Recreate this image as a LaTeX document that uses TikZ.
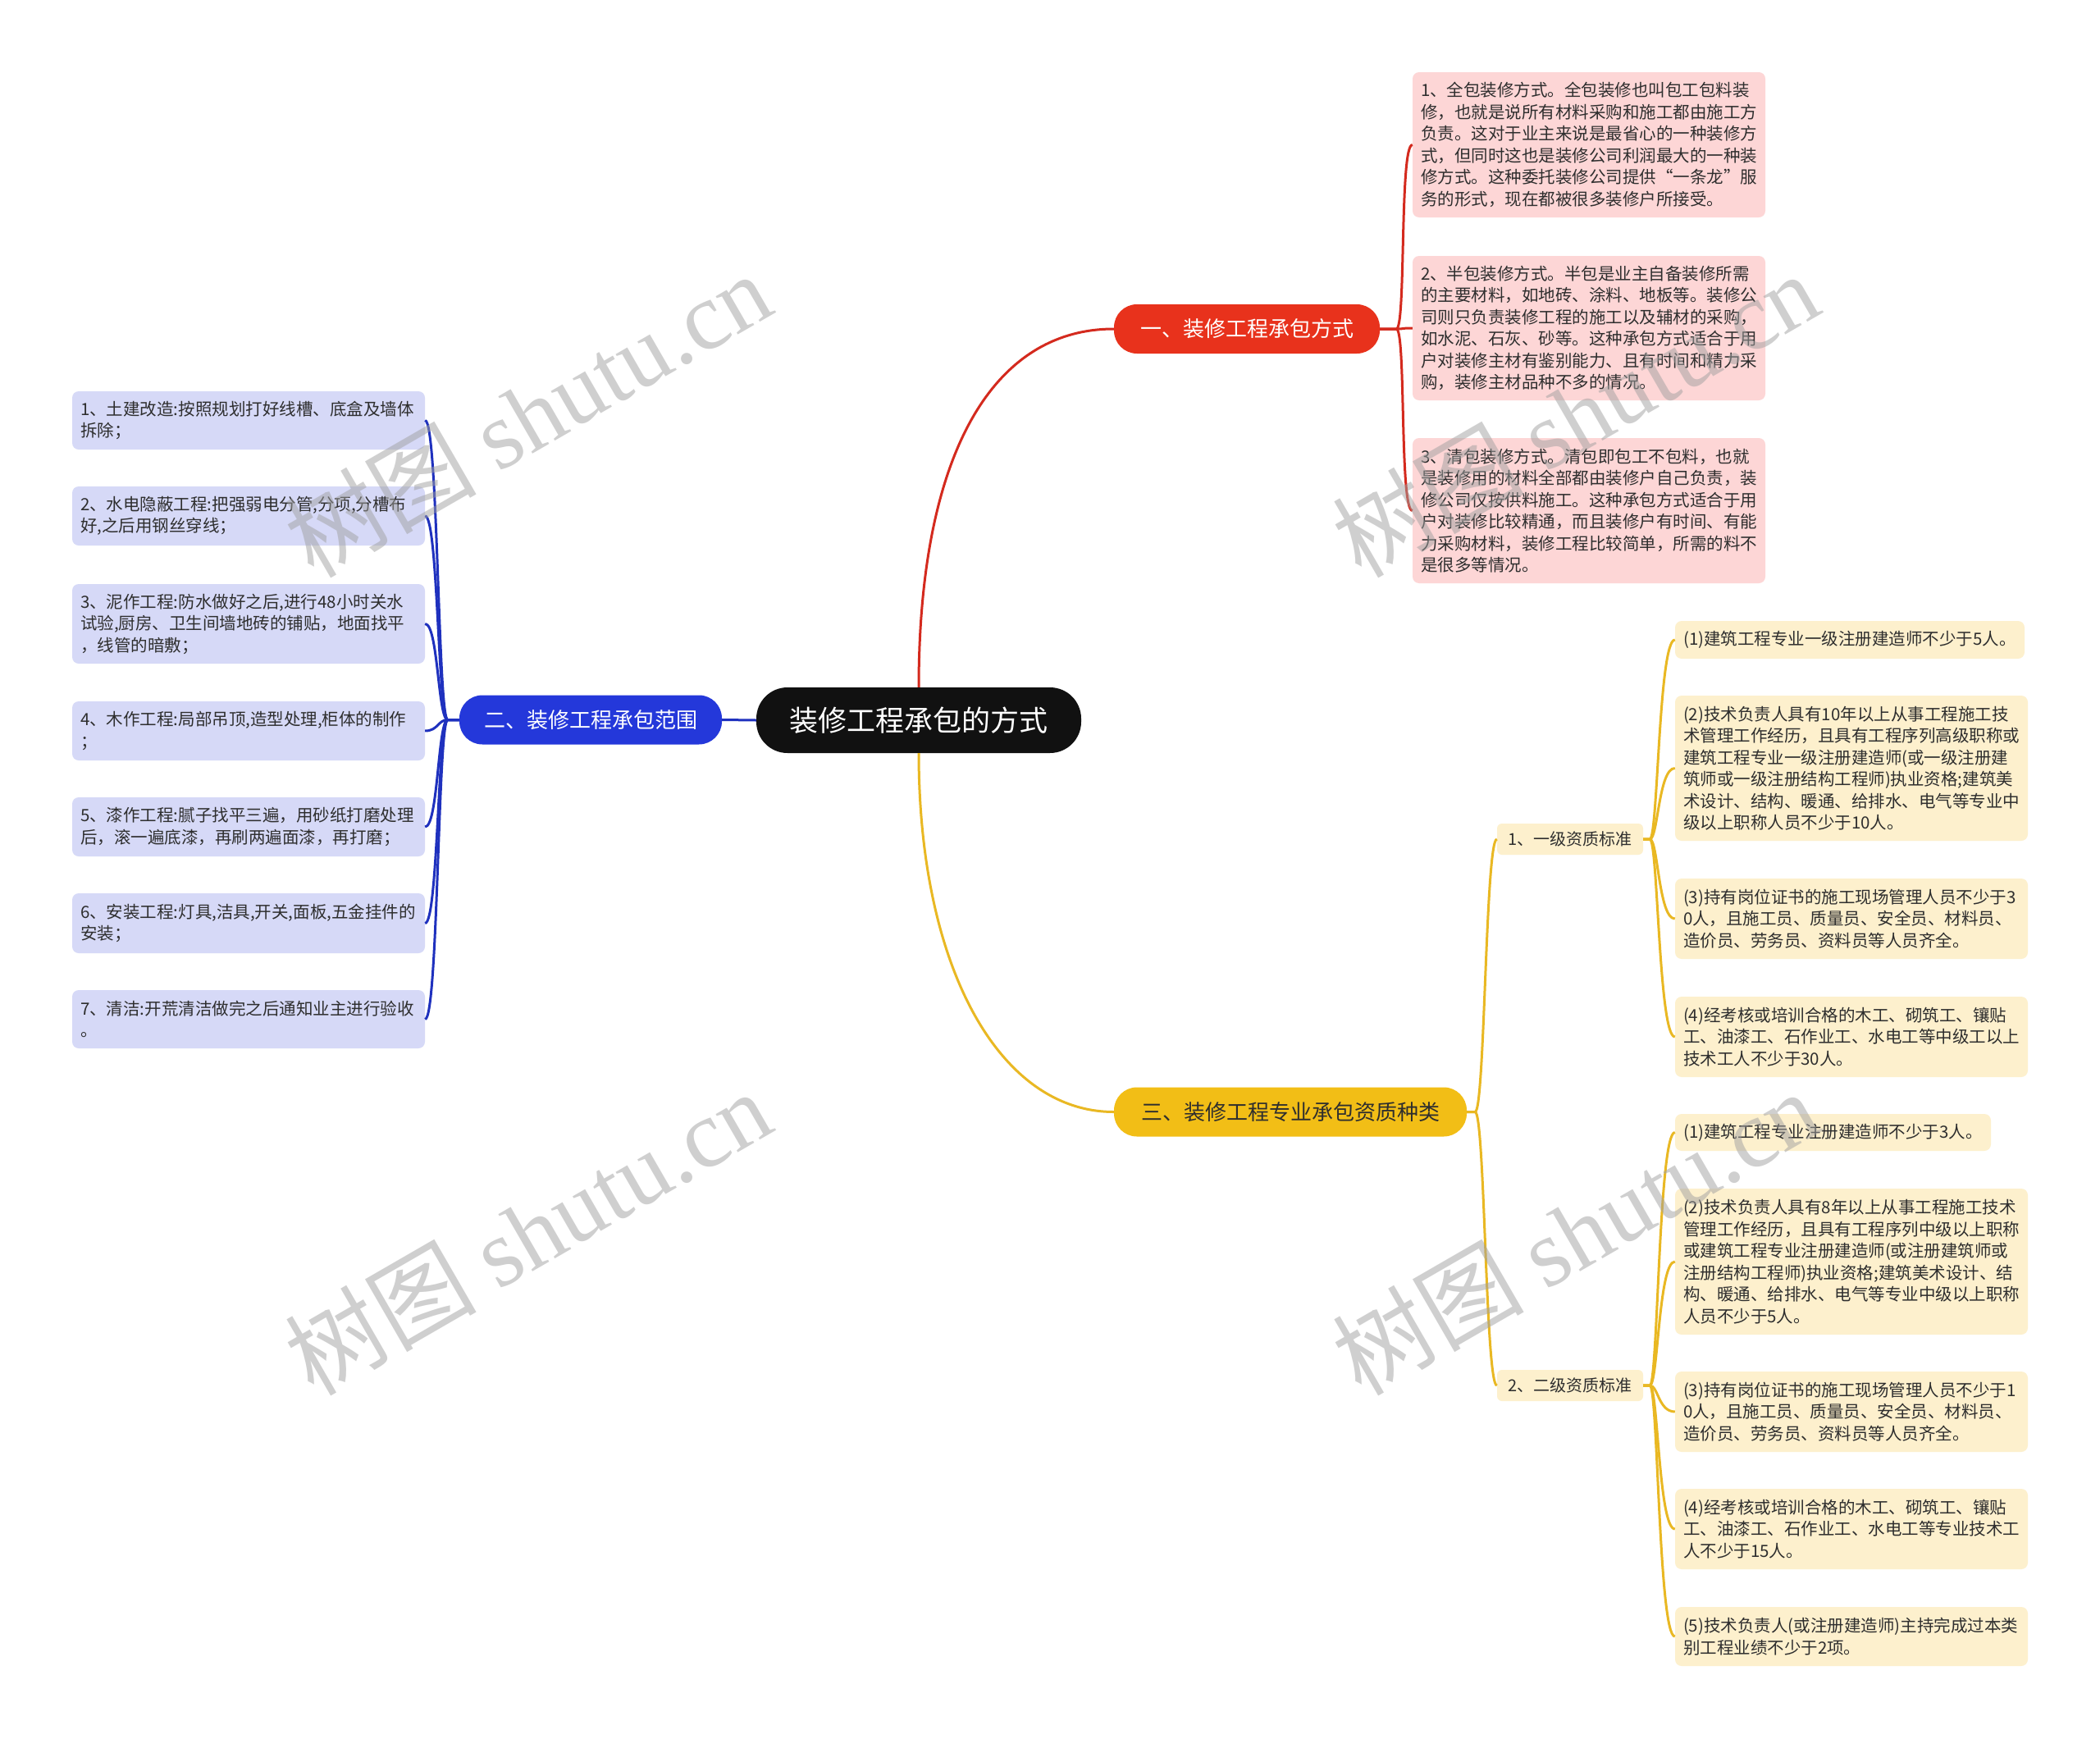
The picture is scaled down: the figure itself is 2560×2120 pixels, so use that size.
\documentclass[tikz,border=0pt]{standalone}
\usepackage{fontspec}
\setmainfont{Noto Sans CJK SC}
\newfontfamily\wmlatin{Liberation Serif}
\definecolor{redb}{HTML}{E8321C}
\definecolor{redl}{HTML}{D42A1E}
\definecolor{pinkf}{HTML}{FDD6D6}
\definecolor{blueb}{HTML}{2438DA}
\definecolor{bluel}{HTML}{1F31BE}
\definecolor{lavf}{HTML}{D6D9F7}
\definecolor{yelb}{HTML}{F2BE16}
\definecolor{yell}{HTML}{E9B823}
\definecolor{creamf}{HTML}{FDF0CD}
\definecolor{txtd}{HTML}{2E2E2E}
\definecolor{rootf}{HTML}{111111}
\definecolor{wmc}{HTML}{A0A0A0}
\tikzset{
  leaf/.style={rounded corners=8, inner xsep=10, inner ysep=3, align=left, text width=410, minimum width=430, font=\fontsize{20.5}{26.5}\selectfont, text=txtd},
  pinkleaf/.style={leaf, fill=pinkf},
  lavleaf/.style={leaf, fill=lavf},
  creamleaf/.style={leaf, fill=creamf},
  oneline/.style={rounded corners=8, inner xsep=10, inner ysep=3, font=\fontsize{20.5}{26.5}\selectfont, text=txtd, fill=creamf},
  subnode/.style={rounded corners=6, inner sep=0, minimum width=178, minimum height=38, font=\fontsize{20}{20}\selectfont, text=txtd, fill=creamf},
  rootnode/.style={rounded corners=38, inner sep=0, minimum width=396, minimum height=80, fill=rootf, text=white, font=\fontsize{35}{35}\selectfont},
  branch/.style={rounded corners=28, inner sep=0, minimum height=60, font=\fontsize{26}{26}\selectfont},
  redcon/.style={draw=redl, line width=3},
  bluecon/.style={draw=bluel, line width=3},
  yelcon/.style={draw=yell, line width=3},
  wm/.style={rotate=30, text=wmc, text opacity=0.5, font=\fontsize{117}{117}\selectfont, inner sep=0}
}
\begin{document}
\begin{tikzpicture}[x=1pt,y=-1pt]
\useasboundingbox (0,0) rectangle (2560,2120);
\fill[white] (0,0) rectangle (2560,2120);

% root and branches
\node[rootnode] (root) at (1120,878) {装修工程承包的方式};
\node[branch, fill=redb, text=white, minimum width=324] (rb) at (1520,401) {一、装修工程承包方式};
\node[branch, fill=blueb, text=white, minimum width=320] (bb) at (720,877.5) {二、装修工程承包范围};
\node[branch, fill=yelb, text=txtd, minimum width=430] (yb) at (1573,1355.5) {三、装修工程专业承包资质种类};

% red leaves
\node[pinkleaf, minimum height=177] (r1) at (1937,176.5) {1、全包装修方式。全包装修也叫包工包料装\\修，也就是说所有材料采购和施工都由施工方\\负责。这对于业主来说是最省心的一种装修方\\式，但同时这也是装修公司利润最大的一种装\\修方式。这种委托装修公司提供“一条龙”服\\务的形式，现在都被很多装修户所接受。};
\node[pinkleaf, minimum height=176] (r2) at (1937,400) {2、半包装修方式。半包是业主自备装修所需\\的主要材料，如地砖、涂料、地板等。装修公\\司则只负责装修工程的施工以及辅材的采购，\\如水泥、石灰、砂等。这种承包方式适合于用\\户对装修主材有鉴别能力、且有时间和精力采\\购，装修主材品种不多的情况。};
\node[pinkleaf, minimum height=177] (r3) at (1937,622.5) {3、清包装修方式。清包即包工不包料，也就\\是装修用的材料全部都由装修户自己负责，装\\修公司仅按供料施工。这种承包方式适合于用\\户对装修比较精通，而且装修户有时间、有能\\力采购材料，装修工程比较简单，所需的料不\\是很多等情况。};

% blue leaves
\node[lavleaf, minimum height=71] (b1) at (303,512.5) {1、土建改造:按照规划打好线槽、底盒及墙体\\拆除；};
\node[lavleaf, minimum height=72] (b2) at (303,629) {2、水电隐蔽工程:把强弱电分管,分项,分槽布\\好,之后用钢丝穿线；};
\node[lavleaf, minimum height=97] (b3) at (303,760.5) {3、泥作工程:防水做好之后,进行48小时关水\\试验,厨房、卫生间墙地砖的铺贴，地面找平\\，线管的暗敷；};
\node[lavleaf, minimum height=72] (b4) at (303,891) {4、木作工程:局部吊顶,造型处理,柜体的制作\\；};
\node[lavleaf, minimum height=72] (b5) at (303,1008) {5、漆作工程:腻子找平三遍，用砂纸打磨处理\\后，滚一遍底漆，再刷两遍面漆，再打磨；};
\node[lavleaf, minimum height=73] (b6) at (303,1125.5) {6、安装工程:灯具,洁具,开关,面板,五金挂件的\\安装；};
\node[lavleaf, minimum height=71] (b7) at (303,1242.5) {7、清洁:开荒清洁做完之后通知业主进行验收\\。};

% yellow sub nodes
\node[subnode] (s1) at (1914,1023) {1、一级资质标准};
\node[subnode] (s2) at (1914,1689) {2、二级资质标准};

% yellow level 1 leaves
\node[oneline, minimum height=46, minimum width=426] (y11) at (2255,780) {(1)建筑工程专业一级注册建造师不少于5人。};
\node[creamleaf, minimum height=177] (y12) at (2257,936.5) {(2)技术负责人具有10年以上从事工程施工技\\术管理工作经历，且具有工程序列高级职称或\\建筑工程专业一级注册建造师(或一级注册建\\筑师或一级注册结构工程师)执业资格;建筑美\\术设计、结构、暖通、给排水、电气等专业中\\级以上职称人员不少于10人。};
\node[creamleaf, minimum height=98] (y13) at (2257,1120) {(3)持有岗位证书的施工现场管理人员不少于3\\0人，且施工员、质量员、安全员、材料员、\\造价员、劳务员、资料员等人员齐全。};
\node[creamleaf, minimum height=98] (y14) at (2257,1264) {(4)经考核或培训合格的木工、砌筑工、镶贴\\工、油漆工、石作业工、水电工等中级工以上\\技术工人不少于30人。};

% yellow level 2 leaves
\node[oneline, minimum height=45, minimum width=385] (y21) at (2234.5,1380.5) {(1)建筑工程专业注册建造师不少于3人。};
\node[creamleaf, minimum height=178] (y22) at (2257,1538) {(2)技术负责人具有8年以上从事工程施工技术\\管理工作经历，且具有工程序列中级以上职称\\或建筑工程专业注册建造师(或注册建筑师或\\注册结构工程师)执业资格;建筑美术设计、结\\构、暖通、给排水、电气等专业中级以上职称\\人员不少于5人。};
\node[creamleaf, minimum height=98] (y23) at (2257,1721) {(3)持有岗位证书的施工现场管理人员不少于1\\0人，且施工员、质量员、安全员、材料员、\\造价员、劳务员、资料员等人员齐全。};
\node[creamleaf, minimum height=98] (y24) at (2257,1864) {(4)经考核或培训合格的木工、砌筑工、镶贴\\工、油漆工、石作业工、水电工等专业技术工\\人不少于15人。};
\node[creamleaf, minimum height=72] (y25) at (2257,1995) {(5)技术负责人(或注册建造师)主持完成过本类\\别工程业绩不少于2项。};

% connectors
\draw[redcon] (root.north) .. controls +(0,-280) and +(-150,0) .. (rb.west);
\foreach \n in {r1,r2,r3}
  \draw[redcon] (rb.east) -- ++(20,0) .. controls +(12,0) and +(-16,0) .. (\n.west);
\draw[bluecon] (root.west) -- (bb.east);
\foreach \n in {b1,b2,b3,b4,b5,b6,b7}
  \draw[bluecon] (bb.west) -- ++(-14,0) .. controls +(-12,0) and +(16,0) .. (\n.east);
\draw[yelcon] (root.south) .. controls +(0,260) and +(-140,0) .. (yb.west);
\foreach \n in {s1,s2}
  \draw[yelcon] (yb.east) -- ++(10,0) .. controls +(12,0) and +(-14,0) .. (\n.west);
\foreach \n in {y11,y12,y13,y14}
  \draw[yelcon] (s1.east) -- ++(8,0) .. controls +(10,0) and +(-20,0) .. (\n.west);
\foreach \n in {y21,y22,y23,y24,y25}
  \draw[yelcon] (s2.east) -- ++(8,0) .. controls +(10,0) and +(-20,0) .. (\n.west);

% watermarks
\node[wm] (w1) at (643,505) {树图 {\wmlatin shutu.cn}};
\node[wm] (w2) at (1920,505) {树图 {\wmlatin shutu.cn}};
\node[wm] (w3) at (643,1502) {树图 {\wmlatin shutu.cn}};
\node[wm] (w4) at (1920,1502) {树图 {\wmlatin shutu.cn}};
\end{tikzpicture}
\end{document}
